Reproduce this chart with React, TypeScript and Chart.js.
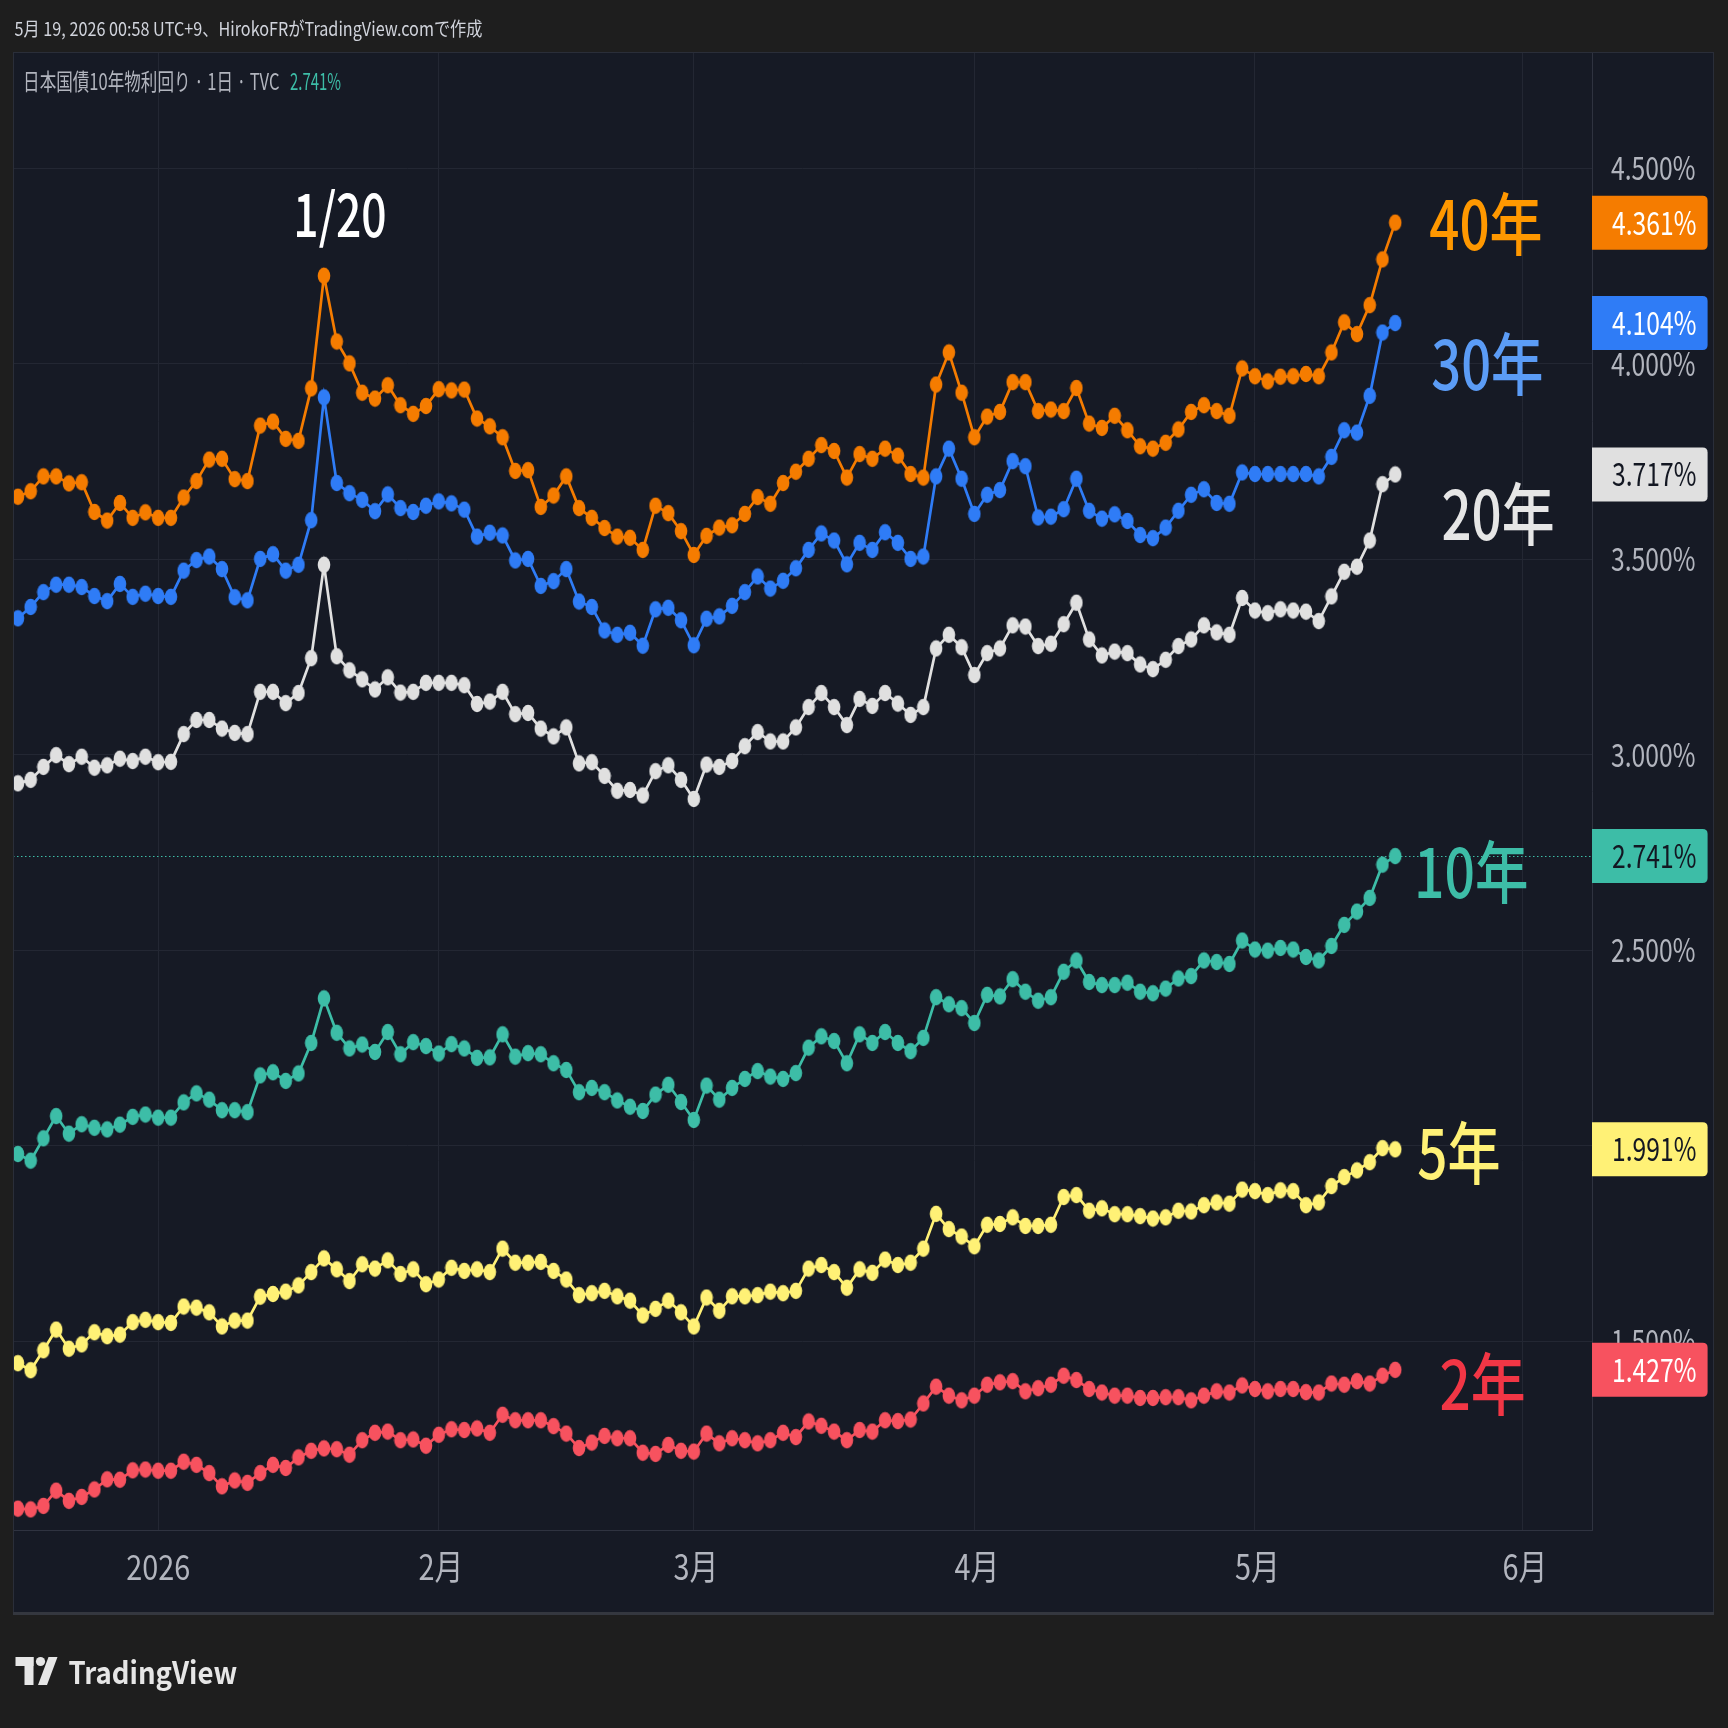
import { useEffect, useRef } from 'react';
import { Chart, registerables } from 'chart.js';

Chart.register(...registerables);

// Bar index of the first trading day of each month, and its label
const monthTickIndex = [11, 33, 53, 75, 97, 118];
const monthTickLabels = ['2026', '2月', '3月', '4月', '5月', '6月'];
// Price scale ticks (%)
const priceTicks = [1.5, 2.0, 2.5, 3.0, 3.5, 4.0, 4.5];

// Daily JGB yields (%), 2025-12-17 .. 2026-05-18, one value per weekday
const jgb40 = [
  3.660, 3.674, 3.712, 3.712, 3.694, 3.697, 3.621, 3.599, 3.644, 3.606,
  3.620, 3.606, 3.606, 3.658, 3.700, 3.755, 3.757, 3.705, 3.700, 3.842,
  3.852, 3.808, 3.803, 3.937, 4.225, 4.057, 4.001, 3.926, 3.911, 3.945,
  3.894, 3.872, 3.892, 3.935, 3.932, 3.934, 3.860, 3.840, 3.812, 3.726,
  3.728, 3.634, 3.663, 3.712, 3.631, 3.606, 3.580, 3.558, 3.555, 3.524,
  3.637, 3.618, 3.572, 3.511, 3.560, 3.581, 3.587, 3.616, 3.659, 3.642,
  3.695, 3.724, 3.757, 3.792, 3.777, 3.709, 3.769, 3.757, 3.783, 3.765,
  3.718, 3.709, 3.947, 4.029, 3.926, 3.812, 3.865, 3.877, 3.953, 3.953,
  3.879, 3.883, 3.879, 3.938, 3.847, 3.836, 3.867, 3.830, 3.789, 3.783,
  3.798, 3.832, 3.877, 3.894, 3.879, 3.867, 3.988, 3.968, 3.955, 3.967,
  3.968, 3.974, 3.968, 4.029, 4.106, 4.076, 4.150, 4.267, 4.361,
];

const jgb30 = [
  3.349, 3.378, 3.416, 3.435, 3.435, 3.429, 3.406, 3.393, 3.437, 3.404,
  3.412, 3.406, 3.404, 3.471, 3.498, 3.507, 3.475, 3.403, 3.395, 3.501,
  3.513, 3.471, 3.486, 3.600, 3.914, 3.695, 3.669, 3.652, 3.623, 3.666,
  3.631, 3.621, 3.637, 3.648, 3.643, 3.627, 3.558, 3.568, 3.561, 3.497,
  3.501, 3.432, 3.444, 3.475, 3.392, 3.378, 3.318, 3.307, 3.312, 3.279,
  3.372, 3.376, 3.344, 3.280, 3.348, 3.354, 3.381, 3.416, 3.456, 3.425,
  3.445, 3.477, 3.524, 3.566, 3.548, 3.487, 3.542, 3.524, 3.569, 3.542,
  3.501, 3.507, 3.712, 3.783, 3.706, 3.616, 3.665, 3.677, 3.751, 3.738,
  3.607, 3.609, 3.628, 3.706, 3.624, 3.604, 3.615, 3.598, 3.562, 3.554,
  3.581, 3.624, 3.665, 3.679, 3.644, 3.642, 3.722, 3.718, 3.718, 3.718,
  3.718, 3.718, 3.712, 3.762, 3.830, 3.824, 3.918, 4.080, 4.104,
];

const jgb20 = [
  2.927, 2.936, 2.969, 2.999, 2.976, 2.995, 2.967, 2.973, 2.990, 2.984,
  2.995, 2.981, 2.982, 3.053, 3.089, 3.089, 3.067, 3.056, 3.053, 3.161,
  3.161, 3.132, 3.158, 3.247, 3.486, 3.252, 3.216, 3.193, 3.167, 3.198,
  3.159, 3.161, 3.184, 3.184, 3.184, 3.178, 3.130, 3.136, 3.161, 3.104,
  3.107, 3.067, 3.047, 3.070, 2.978, 2.981, 2.946, 2.908, 2.910, 2.896,
  2.958, 2.973, 2.936, 2.887, 2.975, 2.969, 2.984, 3.022, 3.058, 3.034,
  3.034, 3.070, 3.122, 3.158, 3.122, 3.076, 3.143, 3.125, 3.158, 3.131,
  3.102, 3.122, 3.272, 3.307, 3.275, 3.204, 3.260, 3.272, 3.331, 3.328,
  3.278, 3.284, 3.334, 3.389, 3.295, 3.254, 3.264, 3.260, 3.231, 3.219,
  3.243, 3.278, 3.295, 3.331, 3.313, 3.307, 3.401, 3.369, 3.362, 3.372,
  3.369, 3.366, 3.342, 3.405, 3.468, 3.481, 3.548, 3.692, 3.717,
];

const jgb10 = [
  1.979, 1.962, 2.019, 2.076, 2.031, 2.055, 2.046, 2.042, 2.054, 2.074,
  2.080, 2.072, 2.072, 2.111, 2.134, 2.118, 2.091, 2.091, 2.086, 2.180,
  2.188, 2.166, 2.185, 2.263, 2.377, 2.289, 2.249, 2.259, 2.240, 2.291,
  2.234, 2.265, 2.255, 2.236, 2.260, 2.249, 2.225, 2.226, 2.285, 2.228,
  2.237, 2.234, 2.211, 2.194, 2.137, 2.148, 2.137, 2.116, 2.100, 2.089,
  2.131, 2.156, 2.112, 2.066, 2.154, 2.118, 2.148, 2.171, 2.191, 2.177,
  2.171, 2.186, 2.251, 2.280, 2.268, 2.211, 2.285, 2.263, 2.291, 2.263,
  2.242, 2.276, 2.380, 2.362, 2.352, 2.314, 2.386, 2.382, 2.426, 2.394,
  2.371, 2.380, 2.445, 2.474, 2.419, 2.411, 2.411, 2.417, 2.394, 2.390,
  2.402, 2.428, 2.434, 2.474, 2.470, 2.465, 2.525, 2.502, 2.499, 2.506,
  2.502, 2.483, 2.474, 2.511, 2.565, 2.599, 2.634, 2.719, 2.741,
];

const jgb5 = [
  1.444, 1.426, 1.477, 1.530, 1.481, 1.492, 1.523, 1.513, 1.517, 1.549,
  1.555, 1.549, 1.547, 1.589, 1.586, 1.574, 1.538, 1.553, 1.553, 1.614,
  1.621, 1.627, 1.643, 1.677, 1.712, 1.684, 1.654, 1.697, 1.686, 1.707,
  1.672, 1.684, 1.646, 1.658, 1.688, 1.680, 1.684, 1.677, 1.737, 1.701,
  1.701, 1.703, 1.680, 1.658, 1.618, 1.623, 1.629, 1.615, 1.604, 1.566,
  1.583, 1.604, 1.574, 1.538, 1.612, 1.578, 1.615, 1.615, 1.618, 1.627,
  1.623, 1.629, 1.686, 1.695, 1.677, 1.637, 1.684, 1.675, 1.709, 1.695,
  1.701, 1.737, 1.826, 1.787, 1.768, 1.743, 1.798, 1.800, 1.817, 1.795,
  1.795, 1.798, 1.869, 1.874, 1.834, 1.840, 1.825, 1.825, 1.820, 1.814,
  1.817, 1.834, 1.832, 1.848, 1.855, 1.852, 1.888, 1.884, 1.874, 1.886,
  1.884, 1.848, 1.855, 1.897, 1.920, 1.937, 1.958, 1.994, 1.991,
];

const jgb2 = [
  1.072, 1.070, 1.079, 1.118, 1.092, 1.102, 1.121, 1.147, 1.146, 1.170,
  1.172, 1.169, 1.169, 1.192, 1.184, 1.163, 1.129, 1.144, 1.138, 1.163,
  1.184, 1.176, 1.203, 1.220, 1.226, 1.224, 1.210, 1.247, 1.266, 1.269,
  1.247, 1.249, 1.233, 1.261, 1.275, 1.273, 1.277, 1.266, 1.312, 1.298,
  1.298, 1.298, 1.283, 1.264, 1.227, 1.241, 1.258, 1.252, 1.252, 1.215,
  1.212, 1.235, 1.220, 1.218, 1.264, 1.239, 1.252, 1.247, 1.239, 1.247,
  1.266, 1.255, 1.295, 1.284, 1.269, 1.247, 1.273, 1.269, 1.298, 1.296,
  1.300, 1.341, 1.384, 1.361, 1.349, 1.361, 1.389, 1.395, 1.398, 1.372,
  1.380, 1.389, 1.412, 1.401, 1.378, 1.369, 1.361, 1.361, 1.355, 1.355,
  1.357, 1.357, 1.349, 1.361, 1.372, 1.369, 1.387, 1.378, 1.372, 1.378,
  1.378, 1.370, 1.369, 1.392, 1.389, 1.398, 1.392, 1.412, 1.427,
];

const W = 1728;
const H = 1728;
const OUTER_BG = '#1e1e1e';
const PANE_BG = '#161a25';
const GRID = '#232733';
const AXIS_LINE = '#2f3340';
const AXIS_TEXT = '#b2b5be';
const FONT = '"Noto Sans CJK JP", "Noto Sans", sans-serif';

// Chart block (pane + price axis + time axis)
const BLOCK = { left: 13, top: 52, right: 1714, bottom: 1613 };

type SeriesStyle = {
  values: number[];
  line: string;
  tag: string;
  tagColor: string;
  tagX: number;
  tagBase: number;
  tagW: number;
  badge: string;
  badgeText: string;
};

const series: SeriesStyle[] = [
  { values: jgb40, line: '#f57c00', tag: '40年', tagColor: '#ff9800', tagX: 1430, tagBase: 250, tagW: 111, badge: '#f57c00', badgeText: '#ffffff' },
  { values: jgb30, line: '#2f7cf6', tag: '30年', tagColor: '#5b9cf6', tagX: 1432, tagBase: 390, tagW: 110, badge: '#2f7cf6', badgeText: '#ffffff' },
  { values: jgb20, line: '#e0e0e0', tag: '20年', tagColor: '#e6e6e6', tagX: 1443, tagBase: 540, tagW: 110, badge: '#e0e0e0', badgeText: '#131722' },
  { values: jgb10, line: '#3dbda7', tag: '10年', tagColor: '#3dbda7', tagX: 1418, tagBase: 898, tagW: 109, badge: '#3dbda7', badgeText: '#131722' },
  { values: jgb5, line: '#fff176', tag: '5年', tagColor: '#fff176', tagX: 1418, tagBase: 1179, tagW: 81, badge: '#fff176', badgeText: '#131722' },
  { values: jgb2, line: '#f7525f', tag: '2年', tagColor: '#f23645', tagX: 1441, tagBase: 1410, tagW: 83, badge: '#f7525f', badgeText: '#ffffff' },
];

// Horizontally condensed text, fitted so its ink spans `width` px
function fitText(
  ctx: CanvasRenderingContext2D,
  text: string,
  x: number,
  baseline: number,
  width: number,
  font: string,
  color: string,
  align: 'left' | 'center' | 'right' = 'left',
) {
  ctx.save();
  ctx.font = font;
  ctx.fillStyle = color;
  ctx.textAlign = 'left';
  ctx.textBaseline = 'alphabetic';
  const m = ctx.measureText(text);
  const ink = m.actualBoundingBoxRight + m.actualBoundingBoxLeft;
  const sx = width / ink;
  let left = x;
  if (align === 'center') left = x - width / 2;
  if (align === 'right') left = x - width;
  ctx.translate(left + m.actualBoundingBoxLeft * sx, baseline);
  ctx.scale(sx, 1);
  ctx.fillText(text, 0, 0);
  ctx.restore();
}

function scaleFor(ctx: CanvasRenderingContext2D, sample: string, font: string, width: number) {
  ctx.save();
  ctx.font = font;
  const m = ctx.measureText(sample);
  ctx.restore();
  return width / (m.actualBoundingBoxRight + m.actualBoundingBoxLeft);
}

function condensed(
  ctx: CanvasRenderingContext2D,
  text: string,
  x: number,
  baseline: number,
  sx: number,
  font: string,
  color: string,
  align: 'center' | 'right',
) {
  ctx.save();
  ctx.font = font;
  ctx.fillStyle = color;
  ctx.textAlign = 'left';
  ctx.textBaseline = 'alphabetic';
  const m = ctx.measureText(text);
  const ink = (m.actualBoundingBoxRight + m.actualBoundingBoxLeft) * sx;
  const left = align === 'center' ? x - ink / 2 : x - ink;
  ctx.translate(left + m.actualBoundingBoxLeft * sx, baseline);
  ctx.scale(sx, 1);
  ctx.fillText(text, 0, 0);
  ctx.restore();
}

// Slightly tall elliptical marker
function dotImage(color: string) {
  const c = document.createElement('canvas');
  c.width = 14;
  c.height = 18;
  const g = c.getContext('2d')!;
  g.fillStyle = color;
  g.beginPath();
  g.ellipse(7, 9, 6.3, 8.2, 0, 0, Math.PI * 2);
  g.fill();
  return c;
}

function roundRightRect(ctx: CanvasRenderingContext2D, x: number, y: number, w: number, h: number, r: number) {
  ctx.beginPath();
  ctx.moveTo(x, y);
  ctx.lineTo(x + w - r, y);
  ctx.quadraticCurveTo(x + w, y, x + w, y + r);
  ctx.lineTo(x + w, y + h - r);
  ctx.quadraticCurveTo(x + w, y + h, x + w - r, y + h);
  ctx.lineTo(x, y + h);
  ctx.closePath();
}

const fmt = (v: number) => `${v.toFixed(3)}%`;

const decorPlugin = {
  id: 'tvDecor',
  beforeDraw(chart: any) {
    const ctx: CanvasRenderingContext2D = chart.ctx;
    ctx.save();
    ctx.fillStyle = OUTER_BG;
    ctx.fillRect(0, 0, W, H);
    ctx.fillStyle = PANE_BG;
    ctx.fillRect(BLOCK.left, BLOCK.top, BLOCK.right - BLOCK.left, BLOCK.bottom - BLOCK.top);
    ctx.restore();
  },
  beforeDatasetsDraw(chart: any) {
    // dotted price line of the main symbol (10年)
    const ctx: CanvasRenderingContext2D = chart.ctx;
    const y = Math.round(chart.scales.y.getPixelForValue(jgb10[jgb10.length - 1])) + 0.5;
    const a = chart.chartArea;
    ctx.save();
    ctx.strokeStyle = '#3dbda7';
    ctx.lineWidth = 1;
    ctx.setLineDash([1.5, 2.5]);
    ctx.beginPath();
    ctx.moveTo(a.left, y);
    ctx.lineTo(a.right, y);
    ctx.stroke();
    ctx.restore();
  },
  afterDraw(chart: any) {
    const ctx: CanvasRenderingContext2D = chart.ctx;
    const ys = chart.scales.y;
    const xs = chart.scales.x;
    const a = chart.chartArea;

    // block outline
    ctx.save();
    ctx.strokeStyle = '#2a2e39';
    ctx.lineWidth = 1;
    ctx.strokeRect(BLOCK.left + 0.5, BLOCK.top + 0.5, BLOCK.right - BLOCK.left - 1, BLOCK.bottom - BLOCK.top - 1);
    ctx.fillStyle = '#34373f';
    ctx.fillRect(BLOCK.left, BLOCK.bottom - 1, BLOCK.right - BLOCK.left, 3);
    ctx.restore();

    // price axis labels
    const yFont = `32px ${FONT}`;
    const ySx = scaleFor(ctx, '4.500%', yFont, 84);
    ys.ticks.forEach((t: any) => {
      const py = ys.getPixelForValue(t.value);
      condensed(ctx, fmt(t.value), 1695, py + 12, ySx, yFont, AXIS_TEXT, 'right');
    });

    // time axis labels
    const xFont = `35px ${FONT}`;
    const xSx = scaleFor(ctx, '2026', xFont, 62);
    xs.ticks.forEach((t: any) => {
      const k = monthTickIndex.indexOf(t.value);
      if (k < 0) return;
      const px = xs.getPixelForValue(t.value);
      condensed(ctx, monthTickLabels[k], px, 1580, xSx, xFont, AXIS_TEXT, 'center');
    });

    // last-value badges on the price axis
    series.forEach((s) => {
      const last = s.values[s.values.length - 1];
      const py = ys.getPixelForValue(last);
      ctx.save();
      ctx.fillStyle = s.badge;
      roundRightRect(ctx, a.right, py - 27, 115.6, 54, 5);
      ctx.fill();
      ctx.restore();
      condensed(ctx, fmt(last), 1696, py + 12, ySx, yFont, s.badgeText, 'right');
    });

    // maturity tags next to the series ends
    series.forEach((s) => {
      fitText(ctx, s.tag, s.tagX, s.tagBase, s.tagW, `500 68px ${FONT}`, s.tagColor);
    });

    // spike annotation
    fitText(ctx, '1/20', 297, 237, 88, `500 60px ${FONT}`, '#ffffff');

    // header and legend
    fitText(ctx, '5月 19, 2026 00:58 UTC+9、HirokoFRがTradingView.comで作成', 14.5, 36, 468, `19px ${FONT}`, '#d1d4dc');
    fitText(ctx, '日本国債10年物利回り · 1日 · TVC', 26, 89.5, 253, `23px ${FONT}`, AXIS_TEXT);
    fitText(ctx, fmt(jgb10[jgb10.length - 1]), 290, 89.5, 51, `23px ${FONT}`, '#3dbda7');

    // TradingView mark and wordmark
    ctx.save();
    ctx.fillStyle = '#e6e6e6';
    ctx.fillRect(15.5, 1657, 18, 9);
    ctx.fillRect(24.5, 1657, 9, 28);
    ctx.beginPath();
    ctx.arc(40.5, 1661.5, 4.6, 0, Math.PI * 2);
    ctx.fill();
    ctx.beginPath();
    ctx.moveTo(48.5, 1657);
    ctx.lineTo(57.5, 1657);
    ctx.lineTo(47, 1685);
    ctx.lineTo(38, 1685);
    ctx.closePath();
    ctx.fill();
    ctx.restore();
    fitText(ctx, 'TradingView', 68.5, 1684, 168, `bold 31px ${FONT}`, '#e6e6e6');
  },
};

export default function App() {
  const canvasRef = useRef<HTMLCanvasElement | null>(null);

  useEffect(() => {
    const canvas = canvasRef.current;
    if (!canvas) return;

    const datasets = series.map((s) => ({
      label: s.tag,
      data: s.values.map((v, i) => ({ x: i, y: v })),
      borderColor: s.line,
      backgroundColor: s.line,
      borderWidth: 2.7,
      pointStyle: dotImage(s.line) as any,
      pointRadius: 7,
      pointHoverRadius: 7,
      tension: 0,
      fill: false,
    }));

    const chart = new Chart(canvas, {
      type: 'line',
      data: { datasets },
      options: {
        responsive: false,
        animation: false,
        devicePixelRatio: 1,
        events: [],
        layout: { padding: { left: 13, top: 52, right: 14, bottom: 115 } },
        plugins: {
          legend: { display: false },
          tooltip: { enabled: false },
        },
        scales: {
          x: {
            type: 'linear',
            position: 'bottom',
            min: -0.384,
            max: 123.43,
            afterBuildTicks: (s: any) => {
              s.ticks = monthTickIndex.map((v) => ({ value: v }));
            },
            afterFit: (s: any) => {
              s.height = 83;
            },
            ticks: { display: false },
            grid: { color: GRID, lineWidth: 1, drawTicks: false },
            border: { display: true, color: AXIS_LINE, width: 1 },
          },
          y: {
            type: 'linear',
            position: 'right',
            min: 1.0174,
            max: 4.7974,
            afterBuildTicks: (s: any) => {
              s.ticks = priceTicks.map((v) => ({ value: v }));
            },
            afterFit: (s: any) => {
              s.width = 122;
            },
            ticks: { display: false },
            grid: { color: GRID, lineWidth: 1, drawTicks: false },
            border: { display: true, color: AXIS_LINE, width: 1 },
          },
        },
      },
      plugins: [decorPlugin],
    });

    return () => chart.destroy();
  }, []);

  return (
    <div style={{ position: 'fixed', left: 0, top: 0, width: W, height: H, background: OUTER_BG }}>
      <canvas ref={canvasRef} width={W} height={H} style={{ display: 'block', width: W, height: H }} />
    </div>
  );
}
